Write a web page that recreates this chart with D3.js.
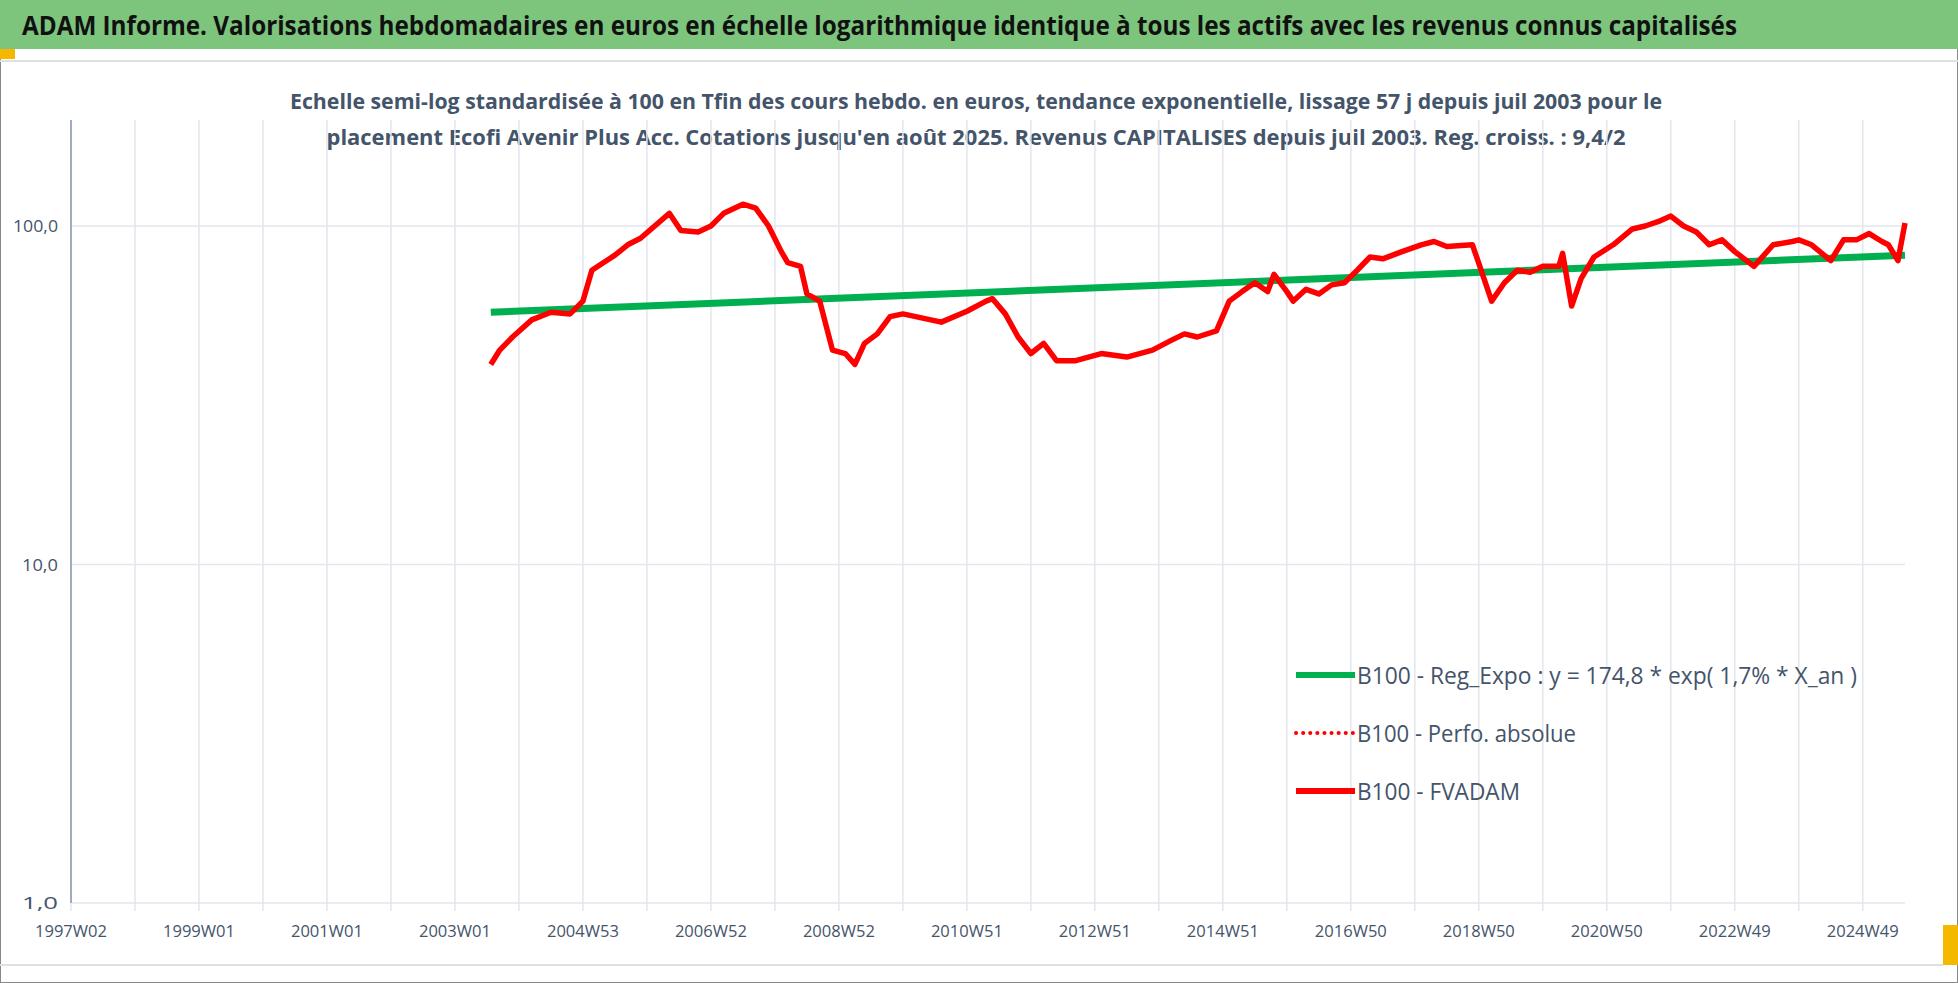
<!DOCTYPE html>
<html><head><meta charset="utf-8">
<script src="https://cdn.jsdelivr.net/npm/d3@7"></script>
<style>body{margin:0;background:#fff}svg{display:block}text{font-family:"Open Sans",sans-serif}</style>
</head><body><svg id="c" width="1958" height="983"></svg>
<script>
// x position expressed in years since index start (1997W02 = 1997.0)
const tickYears = [1997,1999,2001,2003,2005,2007,2009,2011,2013,2015,2017,2019,2021,2023,2025];
const tickLabels = ["1997W02","1999W01","2001W01","2003W01","2004W53","2006W52","2008W52","2010W51","2012W51","2014W51","2016W50","2018W50","2020W50","2022W49","2024W49"];
const fvYears = [2003.56,2003.7,2003.9,2004.2,2004.5,2004.8,2005.0,2005.14,2005.3,2005.5,2005.7,2005.9,2006.35,2006.53,2006.8,2007.0,2007.2,2007.5,2007.7,2007.9,2008.1,2008.2,2008.4,2008.5,2008.7,2008.9,2009.1,2009.25,2009.4,2009.6,2009.8,2010.0,2010.4,2010.6,2011.0,2011.3,2011.4,2011.6,2011.8,2012.0,2012.2,2012.4,2012.7,2013.1,2013.5,2013.9,2014.2,2014.4,2014.6,2014.9,2015.1,2015.3,2015.5,2015.7,2015.8,2016.0,2016.1,2016.3,2016.5,2016.7,2016.9,2017.1,2017.3,2017.5,2017.8,2018.1,2018.3,2018.5,2018.9,2019.0,2019.2,2019.4,2019.6,2019.8,2020.0,2020.25,2020.31,2020.45,2020.6,2020.8,2021.1,2021.4,2021.6,2021.8,2022.0,2022.2,2022.4,2022.6,2022.8,2023.0,2023.3,2023.6,2023.9,2024.0,2024.2,2024.5,2024.7,2024.9,2025.1,2025.3,2025.4,2025.55,2025.66];
const fvValues = [39,43,47,52.8,55.6,55,60,74,77.5,82,88,92,109,97,96,100,109,116,113,100,84,78,76,63,60,43,42,39,45,48,54,55,53,52,56,60,61,55,47,42,45,40,40,42,41,43,46,48,47,49,60,64,68,64,72,64,60,65,63,67,68,74,81,80,84,88,90,87,88,77.5,60,68,74,73,76,76,83,58,70,81,88,98,100,103,107,100,96,88,91,84,76,88,90,91,88,79,91,91,95,90,88,79,102];
const regYears = [2003.56,2025.66];
const regValues = [55.6,82];
const yTicks = [1,10,100];

const svg = d3.select("#c");
const L=71,R=1905,B=903;
const x = d3.scaleLinear().domain([1997,2025.66]).range([L,R]);
const y = d3.scaleLog().domain([1,1000]).range([B, B-3*338.5]);

// frame
svg.append("rect").attr("x",0.5).attr("y",0.5).attr("width",1957).attr("height",982).attr("fill","none").attr("stroke","#888");
svg.append("rect").attr("x",0).attr("y",0).attr("width",1958).attr("height",49).attr("fill","#7dc57d");
svg.append("rect").attr("x",0).attr("y",49).attr("width",15).attr("height",10).attr("fill","#f5b800");
svg.append("rect").attr("x",1943).attr("y",925).attr("width",15).attr("height",40).attr("fill","#f5b800");
svg.append("line").attr("x1",0).attr("x2",1958).attr("y1",61).attr("y2",61).attr("stroke","#dde0e6").attr("stroke-width",2);
svg.append("line").attr("x1",0).attr("x2",1943).attr("y1",965).attr("y2",965).attr("stroke","#dde0e6").attr("stroke-width",2);
svg.append("text").attr("x",22).attr("y",35).attr("font-size",27).attr("font-weight","bold").attr("fill","#111")
  .attr("textLength",1715).attr("lengthAdjust","spacingAndGlyphs")
  .text("ADAM Informe. Valorisations hebdomadaires en euros en échelle logarithmique identique à tous les actifs avec les revenus connus capitalisés");
const sub=["Echelle semi-log standardisée à 100 en Tfin des cours hebdo. en euros, tendance exponentielle, lissage 57 j depuis juil 2003 pour le","placement Ecofi Avenir Plus Acc. Cotations jusqu'en août 2025. Revenus CAPITALISES depuis juil 2003. Reg. croiss. : 9,4/2"];
const subW=[1372,1299];
sub.forEach((s,i)=>svg.append("text").attr("x",976).attr("y",109+i*36).attr("text-anchor","middle").attr("font-size",22).attr("font-weight","bold").attr("fill","#44546a")
  .attr("textLength",subW[i]).attr("lengthAdjust","spacingAndGlyphs").text(s));

// grid
const years=d3.range(1997,2026);
svg.append("g").selectAll("line").data(years).join("line").attr("x1",d=>x(d)).attr("x2",d=>x(d)).attr("y1",120).attr("y2",B+8).attr("stroke","#e3e6ec").attr("stroke-width",1.5);
svg.append("g").selectAll("line").data(yTicks).join("line").attr("x1",L).attr("x2",R).attr("y1",d=>y(d)).attr("y2",d=>y(d)).attr("stroke","#e3e6ec").attr("stroke-width",1.5);
svg.append("line").attr("x1",L).attr("x2",L).attr("y1",120).attr("y2",B).attr("stroke","#8497b0").attr("stroke-width",1.5);
svg.append("g").selectAll("text").data(yTicks).join("text").attr("x",58).attr("y",d=>y(d)+6).attr("text-anchor","end").attr("font-size",17).attr("fill","#44546a").attr("textLength",d=>d==100?45:36).attr("lengthAdjust","spacingAndGlyphs").text(d=>d.toFixed(1).replace(".",","));
svg.append("g").selectAll("text").data(tickYears).join("text").attr("x",d=>x(d)).attr("y",937).attr("text-anchor","middle").attr("font-size",17).attr("fill","#44546a").attr("textLength",72).attr("lengthAdjust","spacingAndGlyphs").text((d,i)=>tickLabels[i]);

// series
const reg=regYears.map((d,i)=>[d,regValues[i]]);
svg.append("path").datum(reg).attr("d",d3.line().x(d=>x(d[0])).y(d=>y(d[1]))).attr("fill","none").attr("stroke","#00b050").attr("stroke-width",7);
const fv=fvYears.map((d,i)=>[d,fvValues[i]]);
svg.append("path").datum(fv).attr("d",d3.line().x(d=>x(d[0])).y(d=>y(d[1]))).attr("fill","none").attr("stroke","#ff0000").attr("stroke-width",5.5).attr("stroke-linejoin","round");

// legend
const leg=[["B100 - Reg_Expo : y = 174,8 * exp( 1,7% *  X_an )","#00b050",null,500],["B100 - Perfo. absolue","#ff0000","0.1 7",219],["B100 - FVADAM","#ff0000",null,163]];
leg.forEach((l,i)=>{const yy=675+i*58;
  svg.append("line").attr("x1",1296).attr("x2",1355).attr("y1",yy).attr("y2",yy).attr("stroke",l[1]).attr("stroke-width",l[2]?4:6).attr("stroke-linecap",l[2]?"round":"butt").attr("stroke-dasharray",l[2]);
  svg.append("text").attr("x",1357).attr("y",yy+9).attr("font-size",23).attr("fill","#44546a").attr("textLength",l[3]).attr("lengthAdjust","spacingAndGlyphs").text(l[0]);});
</script></body></html>
